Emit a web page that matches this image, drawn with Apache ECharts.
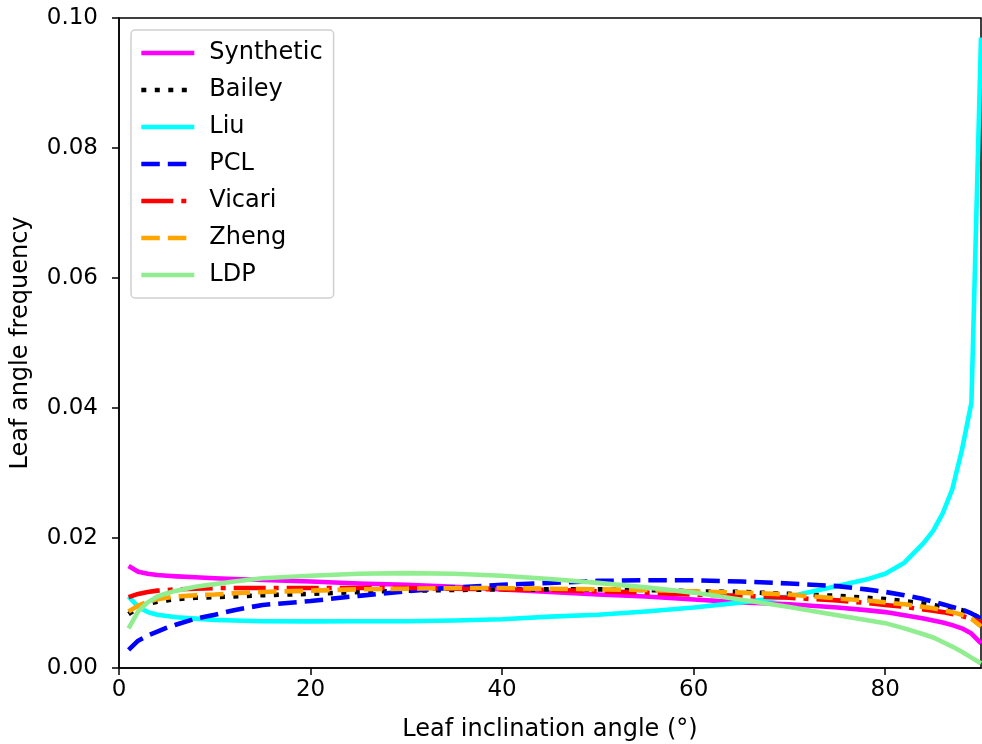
<!DOCTYPE html>
<html>
<head>
<meta charset="utf-8">
<script src="https://cdn.jsdelivr.net/npm/echarts@6/dist/echarts.min.js"></script>
<style>
html,body{margin:0;padding:0;background:#fff;}
#chart{width:982px;height:744px;}
</style>
</head>
<body>
<div id="chart"></div>
<script>
const angles = [1,2,3,4,5,6,8,10,12,15,20,25,30,35,40,45,50,55,60,65,70,75,78,80,82,84,85,86,87,88,89,90];

const synthetic = [0.0157,0.0148,0.0145,0.0143,0.0142,0.0141,0.01395,0.0138,0.0137,0.01355,0.0133,0.0130,0.0128,0.0125,0.0121,0.0117,0.0113,0.0110,0.01055,0.0101,0.0098,0.0093,0.0089,0.0086,0.0081,0.0076,0.0073,0.0070,0.0066,0.0061,0.0053,0.0038];
const bailey = [0.0083,0.0093,0.0099,0.0102,0.0104,0.0106,0.0108,0.0109,0.0110,0.0112,0.0114,0.0117,0.0119,0.0120,0.0121,0.0121,0.0121,0.0120,0.0118,0.0117,0.0114,0.0111,0.0108,0.0106,0.0103,0.0099,0.0097,0.0094,0.0091,0.0089,0.0084,0.0076];
const liu = [0.0110,0.0094,0.0086,0.0082,0.0080,0.0078,0.0076,0.0074,0.0073,0.0072,0.00718,0.0072,0.0072,0.0073,0.0075,0.0079,0.0082,0.0087,0.0093,0.0101,0.0110,0.0126,0.0136,0.0145,0.0162,0.0192,0.0211,0.0238,0.0275,0.0335,0.0408,0.0970];
const pcl = [0.0028,0.0042,0.0050,0.0056,0.0062,0.0067,0.0076,0.0082,0.0089,0.0097,0.0103,0.0111,0.0118,0.0124,0.0128,0.0131,0.0134,0.0135,0.0135,0.0133,0.0130,0.0126,0.0121,0.0117,0.0112,0.0106,0.0102,0.0098,0.0094,0.0090,0.0084,0.0076];
const vicari = [0.0109,0.0114,0.0117,0.0119,0.0120,0.0121,0.0122,0.0123,0.0123,0.0123,0.0123,0.0123,0.0123,0.0122,0.0121,0.0120,0.0118,0.0116,0.0113,0.0111,0.0108,0.0104,0.0100,0.0097,0.0094,0.0090,0.0088,0.0086,0.0083,0.0080,0.0076,0.0070];
const zheng = [0.0087,0.0096,0.0102,0.0106,0.0108,0.0110,0.0112,0.0113,0.0115,0.0117,0.0119,0.0121,0.0122,0.0123,0.0123,0.0122,0.0121,0.0120,0.0118,0.0116,0.0113,0.0107,0.0104,0.0101,0.0098,0.0094,0.0092,0.0089,0.0086,0.0082,0.0076,0.0064];
const ldp = [0.0061,0.0087,0.0101,0.0110,0.0115,0.0119,0.0125,0.0129,0.0133,0.0138,0.0142,0.0145,0.0146,0.0145,0.0142,0.0137,0.0131,0.0124,0.0116,0.0105,0.0094,0.0081,0.0074,0.0069,0.0061,0.0052,0.0047,0.0040,0.0033,0.0025,0.0016,0.0007];

const seriesNames = ['Synthetic','Bailey','Liu','PCL','Vicari','Zheng','LDP'];
const seriesValues = [synthetic,bailey,liu,pcl,vicari,zheng,ldp];
const seriesColors = ['#ff00ff','#000000','#00ffff','#0000ff','#ff0000','#ffa500','#90ee90'];
const seriesDash = ['solid',[5,8.5],'solid',[18.5,8],[32,8,5,8],[18.5,8],'solid'];

const xTicks = [0,20,40,60,80];
const yTicks = ['0.00','0.02','0.04','0.06','0.08','0.10'];

const FONT = 'DejaVu Sans';
const FS = 24;
const FST = 23;
const LW = 4.6;

const chart = echarts.init(document.getElementById('chart'), null, {renderer:'canvas'});
chart.setOption({
  animation:false,
  backgroundColor:'#fff',
  textStyle:{fontFamily:FONT},
  grid:{left:119,right:1,top:18,bottom:76,show:true,borderColor:'#000',borderWidth:1.5,
    backgroundColor:'transparent',containLabel:false,outerBoundsMode:'none'},
  legend:{
    orient:'vertical',left:131,top:30,
    padding:[11,11,11,8],
    backgroundColor:'#fff',borderColor:'#d0d0d0',borderWidth:1.5,borderRadius:4,
    itemWidth:53,itemHeight:24,itemGap:13,
    itemStyle:{opacity:0},
    lineStyle:{width:LW},
    textStyle:{fontSize:FS,color:'#000',fontFamily:FONT,padding:[0,0,0,10]},
    data:seriesNames
  },
  xAxis:{
    type:'value',min:0,max:90,interval:20,
    axisLine:{show:true,onZero:false,lineStyle:{color:'#000',width:1.5}},
    axisTick:{show:true,length:7,lineStyle:{color:'#000',width:1.5}},
    axisLabel:{fontSize:FST,color:'#000',fontFamily:FONT,margin:11,showMaxLabel:false,
      formatter:v=>xTicks.includes(v)?String(v):''},
    splitLine:{show:false},
    name:'Leaf inclination angle (°)',nameLocation:'middle',nameGap:50,
    nameTextStyle:{fontSize:FS,color:'#000',fontFamily:FONT}
  },
  yAxis:{
    type:'value',min:0,max:0.1,interval:0.02,
    axisLine:{show:true,lineStyle:{color:'#000',width:1.5}},
    axisTick:{show:true,length:7,lineStyle:{color:'#000',width:1.5}},
    axisLabel:{fontSize:FST,color:'#000',fontFamily:FONT,margin:21,
      formatter:v=>yTicks[Math.round(v/0.02)]},
    splitLine:{show:false},
    name:'Leaf angle frequency',nameLocation:'middle',nameGap:86,
    nameTextStyle:{fontSize:FS,color:'#000',fontFamily:FONT}
  },
  series:seriesNames.map((n,i)=>({
    name:n,type:'line',
    data:angles.map((a,j)=>[a,seriesValues[i][j]]),
    showSymbol:false,symbol:'none',
    lineStyle:{color:seriesColors[i],width:LW,type:seriesDash[i],cap:'butt',join:'round'},
    itemStyle:{color:seriesColors[i]},
    emphasis:{disabled:true},
    z:2+i
  }))
});
</script>
</body>
</html>
